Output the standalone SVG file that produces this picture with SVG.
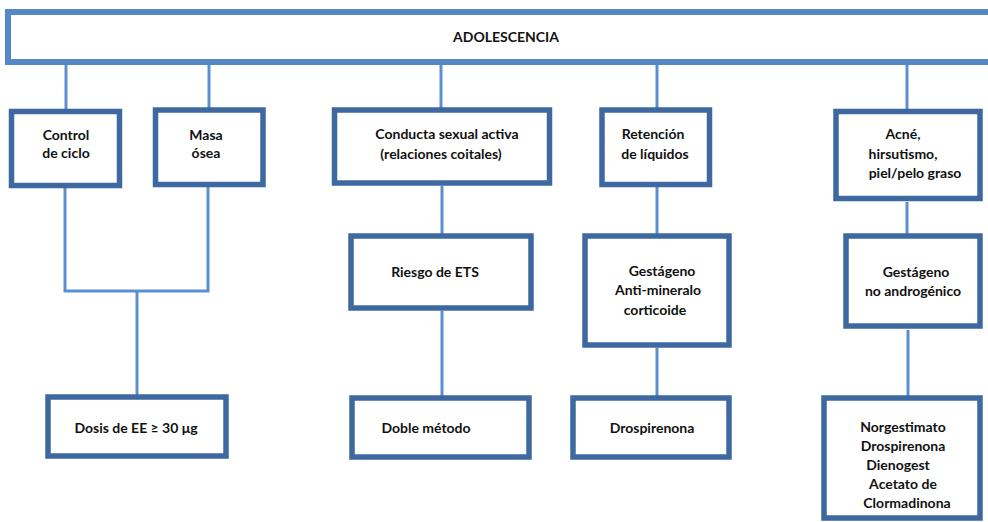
<svg xmlns="http://www.w3.org/2000/svg" width="988" height="522" viewBox="0 0 988 522">
<style>
.box{fill:#fff;stroke:#3D68A0;stroke-width:5.5}
.top{fill:#fff;stroke:#5587C6;stroke-width:6}
.c{fill:none;stroke:#5B8FCF;stroke-width:3}
text{font-family:Lato,"Open Sans","Liberation Sans",sans-serif;font-weight:bold;font-size:14px;fill:#111;text-anchor:middle}
</style>
<rect width="988" height="522" fill="#fff"/>
<g id="connectors">
<path class="c" d="M66 65V109M209 65V108M441 65V108M657 65V108M907 65V109"/>
<path class="c" d="M65 188V291H208V187M137 291V395"/>
<path class="c" d="M442 186V234M442 311V396"/>
<path class="c" d="M657 187V234M657 348V396"/>
<path class="c" d="M907 202V234M908 330V396"/>
</g>
<g id="adolescencia"><rect class="top" x="8" y="12" width="990" height="50"/><text x="506" y="42" font-size="13">ADOLESCENCIA</text></g>
<g id="control"><rect class="box" x="11.5" y="111.5" width="108" height="74"/><text x="66" y="140">Control</text><text x="66" y="158">de ciclo</text></g>
<g id="masa"><rect class="box" x="155.5" y="110" width="107.5" height="74.5"/><text x="206" y="140">Masa</text><text x="206" y="158">ósea</text></g>
<g id="conducta"><rect class="box" x="334.5" y="110" width="215" height="73"/><text x="447" y="139">Conducta sexual activa</text><text x="441" y="159">(relaciones coitales)</text></g>
<g id="retencion"><rect class="box" x="602" y="110" width="107.5" height="74.5"/><text x="653" y="139">Retención</text><text x="655" y="159">de líquidos</text></g>
<g id="acne"><rect class="box" x="836" y="111.5" width="144" height="87"/><text x="903" y="139">Acné,</text><text x="903" y="159">hirsutismo,</text><text x="915" y="178">piel/pelo graso</text></g>
<g id="riesgo"><rect class="box" x="351" y="236" width="180" height="72"/><text x="435" y="277">Riesgo de ETS</text></g>
<g id="gestageno-anti"><rect class="box" x="585" y="236" width="144" height="109"/><text x="662" y="276">Gestágeno</text><text x="658" y="295">Anti-mineralo</text><text x="655" y="315">corticoide</text></g>
<g id="gestageno-no"><rect class="box" x="846" y="236" width="134" height="90"/><text x="916" y="277">Gestágeno</text><text x="913" y="296">no androgénico</text></g>
<g id="dosis"><rect class="box" x="48" y="397" width="178" height="59"/><text x="136" y="433">Dosis de EE ≥ 30 μg</text></g>
<g id="doble"><rect class="box" x="352" y="398" width="177" height="59"/><text x="426" y="433">Doble método</text></g>
<g id="drospirenona"><rect class="box" x="573" y="398" width="156" height="59"/><text x="652" y="433">Drospirenona</text></g>
<g id="norgestimato"><rect class="box" x="824" y="398" width="156" height="120"/><text x="903" y="432">Norgestimato</text><text x="903" y="451">Drospirenona</text><text x="898" y="470">Dienogest</text><text x="903" y="489">Acetato de</text><text x="907" y="508">Clormadinona</text></g>
</svg>
